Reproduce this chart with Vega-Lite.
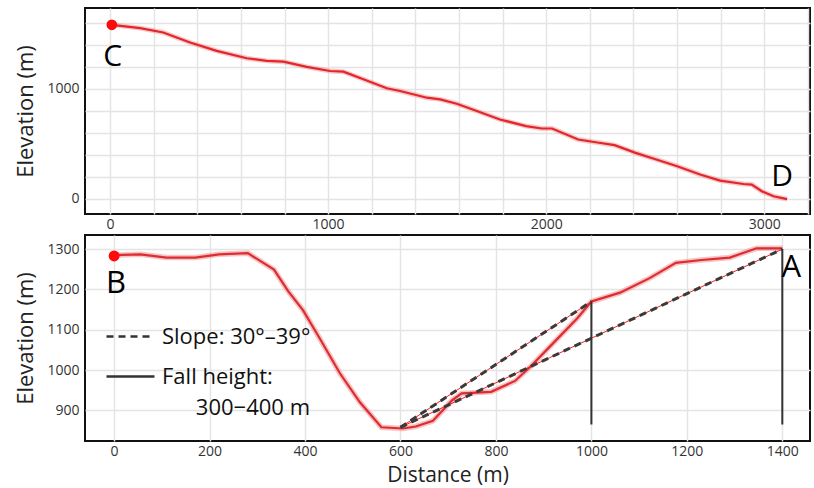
{
  "$schema": "https://vega.github.io/schema/vega-lite/v6.json",
  "background": "white",
  "padding": {"left": 13, "top": 7, "right": 4, "bottom": 0},
  "spacing": 2,
  "config": {
    "view": {"stroke": "#111111", "strokeWidth": 2},
    "axis": {
      "labelFont": "Open Sans", "labelFontSize": 14, "labelColor": "#333333",
      "titleFont": "Open Sans", "titleFontSize": 22, "titleFontWeight": "normal", "titleColor": "#222222",
      "ticks": false, "tickSize": 0, "domain": false,
      "gridColor": "#e4e4e4", "gridWidth": 1.5, "labelOverlap": false
    },
    "legend": {"padding": 0}
  },
  "datasets": {
    "cd": [
      {"d": 8, "e": 1581}, {"d": 138, "e": 1551}, {"d": 244, "e": 1511}, {"d": 367, "e": 1420},
      {"d": 489, "e": 1344}, {"d": 627, "e": 1277}, {"d": 719, "e": 1253}, {"d": 795, "e": 1246},
      {"d": 902, "e": 1198}, {"d": 1009, "e": 1161}, {"d": 1070, "e": 1155}, {"d": 1162, "e": 1086},
      {"d": 1269, "e": 1004}, {"d": 1330, "e": 979}, {"d": 1453, "e": 918}, {"d": 1514, "e": 903},
      {"d": 1590, "e": 863}, {"d": 1682, "e": 797}, {"d": 1788, "e": 720}, {"d": 1908, "e": 660},
      {"d": 1980, "e": 638}, {"d": 2027, "e": 638}, {"d": 2147, "e": 538}, {"d": 2242, "e": 508},
      {"d": 2314, "e": 486}, {"d": 2410, "e": 416}, {"d": 2505, "e": 356}, {"d": 2601, "e": 295},
      {"d": 2706, "e": 219}, {"d": 2798, "e": 164}, {"d": 2905, "e": 133}, {"d": 2943, "e": 128},
      {"d": 2989, "e": 67}, {"d": 3043, "e": 21}, {"d": 3105, "e": -5}
    ],
    "cdLabels": [
      {"d": 8, "e": 1581, "t": "C"},
      {"d": 3105, "e": -5, "t": "D"}
    ],
    "ba": [
      {"d": 0, "e": 1285}, {"d": 55, "e": 1287}, {"d": 110, "e": 1279}, {"d": 170, "e": 1279},
      {"d": 220, "e": 1287}, {"d": 280, "e": 1290}, {"d": 335, "e": 1249}, {"d": 365, "e": 1195},
      {"d": 396, "e": 1148}, {"d": 430, "e": 1080}, {"d": 473, "e": 992}, {"d": 515, "e": 920},
      {"d": 560, "e": 858}, {"d": 605, "e": 855}, {"d": 632, "e": 860}, {"d": 668, "e": 874},
      {"d": 708, "e": 925}, {"d": 728, "e": 942}, {"d": 760, "e": 944}, {"d": 790, "e": 946},
      {"d": 840, "e": 973}, {"d": 872, "e": 1008}, {"d": 921, "e": 1068}, {"d": 970, "e": 1128},
      {"d": 1000, "e": 1170}, {"d": 1060, "e": 1192}, {"d": 1122, "e": 1228}, {"d": 1177, "e": 1266},
      {"d": 1231, "e": 1273}, {"d": 1290, "e": 1279}, {"d": 1346, "e": 1302}, {"d": 1400, "e": 1302}
    ],
    "baLabels": [
      {"d": 0, "e": 1283, "t": "B"},
      {"d": 1400, "e": 1300, "t": "A"}
    ],
    "slopes": [
      {"seg": 1, "d": 600, "e": 858, "kind": "Slope: 30°–39°"},
      {"seg": 1, "d": 1000, "e": 1170, "kind": "Slope: 30°–39°"},
      {"seg": 2, "d": 600, "e": 858, "kind": "Slope: 30°–39°"},
      {"seg": 2, "d": 1400, "e": 1300, "kind": "Slope: 30°–39°"}
    ],
    "falls": [
      {"d": 1000, "top": 1170, "bot": 865, "kind": "Fall height:"},
      {"d": 1400, "top": 1300, "bot": 865, "kind": "Fall height:"}
    ]
  },
  "vconcat": [
    {
      "width": 725,
      "height": 206,
      "layer": [
        {
          "data": {"name": "cd"},
          "mark": {"type": "line", "stroke": "#f08a8a", "strokeWidth": 5, "opacity": 0.45},
          "encoding": {
            "x": {"field": "d", "type": "quantitative",
              "scale": {"domain": [-115, 3210], "nice": false, "zero": false},
              "axis": {"values": [0, 200, 400, 600, 800, 1000, 1200, 1400, 1600, 1800, 2000, 2200, 2400, 2600, 2800, 3000, 3200],
                "tickCount": 40, "format": "d", "labelExpr": "datum.value % 1000 === 0 ? datum.label : ''", "title": null, "labelPadding": 3}},
            "y": {"field": "e", "type": "quantitative",
              "scale": {"domain": [-140, 1734], "nice": false, "zero": false},
              "axis": {"values": [0, 200, 400, 600, 800, 1000, 1200, 1400, 1600], "tickCount": 40,
                "format": "d", "labelExpr": "datum.value % 1000 === 0 ? datum.label : ''",
                "title": "Elevation (m)", "labelPadding": 6, "titlePadding": 9}}
          }
        },
        {
          "data": {"name": "cd"},
          "mark": {"type": "line", "stroke": "#e3262b", "strokeWidth": 2.2},
          "encoding": {
            "x": {"field": "d", "type": "quantitative"},
            "y": {"field": "e", "type": "quantitative"}
          }
        },
        {
          "data": {"name": "cdLabels"},
          "transform": [{"filter": "datum.t === 'C'"}],
          "mark": {"type": "point", "filled": true, "color": "#ff0a0a", "size": 115, "opacity": 1},
          "encoding": {
            "x": {"field": "d", "type": "quantitative"},
            "y": {"field": "e", "type": "quantitative"}
          }
        },
        {
          "data": {"name": "cdLabels"},
          "transform": [{"filter": "datum.t === 'C'"}],
          "mark": {"type": "text", "font": "Open Sans", "fontSize": 30, "color": "#000000", "dx": 1, "dy": 32},
          "encoding": {
            "x": {"field": "d", "type": "quantitative"},
            "y": {"field": "e", "type": "quantitative"},
            "text": {"field": "t"}
          }
        },
        {
          "data": {"name": "cdLabels"},
          "transform": [{"filter": "datum.t === 'D'"}],
          "mark": {"type": "text", "font": "Open Sans", "fontSize": 30, "color": "#000000", "dx": -5, "dy": -22},
          "encoding": {
            "x": {"field": "d", "type": "quantitative"},
            "y": {"field": "e", "type": "quantitative"},
            "text": {"field": "t"}
          }
        }
      ]
    },
    {
      "width": 725,
      "height": 206,
      "layer": [
        {
          "data": {"name": "ba"},
          "mark": {"type": "line", "stroke": "#f08a8a", "strokeWidth": 5.5, "opacity": 0.5},
          "encoding": {
            "x": {"field": "d", "type": "quantitative",
              "scale": {"domain": [-61, 1458], "nice": false, "zero": false},
              "axis": {"values": [0, 200, 400, 600, 800, 1000, 1200, 1400], "tickCount": 40, "format": "d",
                "title": "Distance (m)", "titleFontSize": 21, "labelPadding": 3, "titlePadding": 6}},
            "y": {"field": "e", "type": "quantitative",
              "scale": {"domain": [824, 1335], "nice": false, "zero": false},
              "axis": {"values": [900, 1000, 1100, 1200, 1300], "tickCount": 40, "format": "d",
                "title": "Elevation (m)", "labelPadding": 6, "titlePadding": 9}}
          }
        },
        {
          "data": {"name": "ba"},
          "mark": {"type": "line", "stroke": "#dd2c32", "strokeWidth": 2.2},
          "encoding": {
            "x": {"field": "d", "type": "quantitative"},
            "y": {"field": "e", "type": "quantitative"}
          }
        },
        {
          "data": {"name": "slopes"},
          "mark": {"type": "line", "stroke": "#ff1a1a", "strokeWidth": 1},
          "encoding": {
            "x": {"field": "d", "type": "quantitative"},
            "y": {"field": "e", "type": "quantitative"},
            "detail": {"field": "seg"}
          }
        },
        {
          "data": {"name": "slopes"},
          "mark": {"type": "line", "stroke": "#3a3a3a", "strokeWidth": 3},
          "encoding": {
            "x": {"field": "d", "type": "quantitative"},
            "y": {"field": "e", "type": "quantitative"},
            "detail": {"field": "seg"},
            "strokeDash": {"field": "kind", "type": "nominal",
              "scale": {"domain": ["Slope: 30°–39°", "Fall height:"], "range": [[7, 5], [1, 0]]},
              "legend": {
                "orient": "none", "legendX": 20, "legendY": 303, "direction": "vertical",
                "symbolType": "stroke", "symbolSize": 2304, "symbolStrokeWidth": 2.5, "symbolStrokeColor": "#333333",
                "labelFont": "Open Sans", "labelFontSize": 22, "labelColor": "#111111", "labelOffset": 6, "labelLimit": 400,
                "rowPadding": 3,
                "title": "300−400 m\u00a0\u00a0", "titleOrient": "bottom", "titleAnchor": "end",
                "titleFont": "Open Sans", "titleFontSize": 22, "titleFontWeight": "normal", "titleColor": "#111111", "titlePadding": 10
              }}
          }
        },
        {
          "data": {"name": "falls"},
          "mark": {"type": "rule", "stroke": "#333333", "strokeWidth": 2},
          "encoding": {
            "x": {"field": "d", "type": "quantitative"},
            "y": {"field": "top", "type": "quantitative"},
            "y2": {"field": "bot"},
            "strokeDash": {"field": "kind", "type": "nominal"}
          }
        },
        {
          "data": {"name": "baLabels"},
          "transform": [{"filter": "datum.t === 'B'"}],
          "mark": {"type": "point", "filled": true, "color": "#ff0a0a", "size": 120, "opacity": 1},
          "encoding": {
            "x": {"field": "d", "type": "quantitative"},
            "y": {"field": "e", "type": "quantitative"}
          }
        },
        {
          "data": {"name": "baLabels"},
          "transform": [{"filter": "datum.t === 'B'"}],
          "mark": {"type": "text", "font": "Open Sans", "fontSize": 31, "color": "#000000", "dx": 2, "dy": 28},
          "encoding": {
            "x": {"field": "d", "type": "quantitative"},
            "y": {"field": "e", "type": "quantitative"},
            "text": {"field": "t"}
          }
        },
        {
          "data": {"name": "baLabels"},
          "transform": [{"filter": "datum.t === 'A'"}],
          "mark": {"type": "text", "font": "Open Sans", "fontSize": 31, "color": "#000000", "dx": 9, "dy": 19},
          "encoding": {
            "x": {"field": "d", "type": "quantitative"},
            "y": {"field": "e", "type": "quantitative"},
            "text": {"field": "t"}
          }
        }
      ]
    }
  ]
}
